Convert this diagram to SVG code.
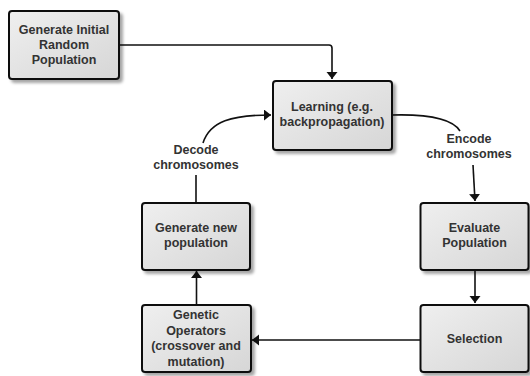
<svg xmlns="http://www.w3.org/2000/svg" width="530" height="376" viewBox="0 0 530 376">
<style>
.box{fill:url(#g);stroke:#111;stroke-width:2;filter:url(#sh)}
.t{font-family:"Liberation Sans",Arial,sans-serif;font-weight:bold;font-size:12.5px;fill:#333;text-anchor:middle}
.c{fill:none;stroke:#111;stroke-width:1.6}
</style>
<defs>
<linearGradient id="g" x1="0" y1="0" x2="1" y2="1">
<stop offset="0" stop-color="#efefef"/>
<stop offset="1" stop-color="#d6d6d6"/>
</linearGradient>
<filter id="sh" x="-10%" y="-10%" width="130%" height="130%">
<feDropShadow dx="3" dy="3" stdDeviation="1.5" flood-color="#000" flood-opacity="0.35"/>
</filter>
<marker id="a" markerUnits="userSpaceOnUse" markerWidth="10" markerHeight="12" refX="7" refY="5.5" orient="auto">
<path d="M0,0 L7,5.5 L0,11 z" fill="#111"/>
</marker>
</defs>
<rect width="530" height="376" fill="#fff"/>

<g id="connectors">
<path class="c" d="M119,45 H329 Q332,45 332,48 V79" marker-end="url(#a)"/>
<path class="c" d="M196,203 V175"/>
<path class="c" d="M203,143 C210,121 232,115 271,115" marker-end="url(#a)"/>
<path class="c" d="M392,115 C428,114 452,118 460,131"/>
<path class="c" d="M473,165 L475,201" marker-end="url(#a)"/>
<path class="c" d="M475,271 V303" marker-end="url(#a)"/>
<path class="c" d="M420,340 H252" marker-end="url(#a)"/>
<path class="c" d="M196.5,305 V271" marker-end="url(#a)"/>
</g>

<g id="n1">
<rect class="box" x="9" y="11" width="110" height="68" rx="3"/>
<text class="t" x="64" y="33.5">Generate Initial</text>
<text class="t" x="64" y="48.5">Random</text>
<text class="t" x="64" y="63.5">Population</text>
</g>
<g id="n2">
<rect class="box" x="273" y="81" width="119" height="69" rx="3"/>
<text class="t" x="332" y="110.5">Learning (e.g.</text>
<text class="t" x="332" y="125.5">backpropagation)</text>
</g>
<g id="n3">
<rect class="box" x="142" y="203" width="108" height="67" rx="3"/>
<text class="t" x="196" y="232">Generate new</text>
<text class="t" x="196" y="247">population</text>
</g>
<g id="n4">
<rect class="box" x="420.5" y="203" width="108" height="67" rx="3"/>
<text class="t" x="474.5" y="232">Evaluate</text>
<text class="t" x="474.5" y="247">Population</text>
</g>
<g id="n5">
<rect class="box" x="142" y="305" width="109" height="67" rx="3"/>
<text class="t" x="196" y="319">Genetic</text>
<text class="t" x="196" y="334.5">Operators</text>
<text class="t" x="196" y="350">(crossover and</text>
<text class="t" x="196" y="365.5">mutation)</text>
</g>
<g id="n6">
<rect class="box" x="420.5" y="305" width="108" height="67" rx="3"/>
<text class="t" x="474.5" y="342.5">Selection</text>
</g>

<g id="labels">
<text class="t" x="196" y="154">Decode</text>
<text class="t" x="196" y="168.5">chromosomes</text>
<text class="t" x="469" y="142.5">Encode</text>
<text class="t" x="469" y="157.5">chromosomes</text>
</g>
</svg>
